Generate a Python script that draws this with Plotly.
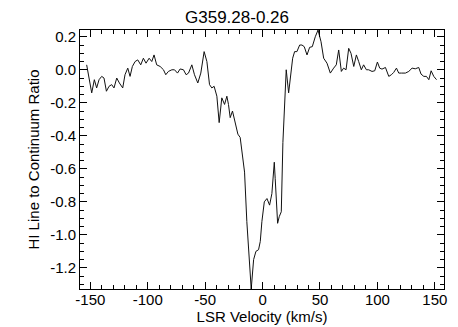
import plotly.graph_objects as go

velocity = [-153.2, -150.3, -148.8, -146.5, -144.5, -142.4, -140.1, -138.1, -136.0, -133.7,
            -131.4, -129.4, -127.0, -124.7, -121.8, -119.8, -117.4, -115.4, -113.4, -111.0,
            -108.7, -106.1, -103.8, -101.5, -98.8, -96.5, -94.5, -92.2, -89.2, -86.3,
            -84.3, -82.0, -79.0, -76.7, -74.1, -71.8, -68.9, -66.6, -64.5, -61.6,
            -59.3, -56.4, -53.8, -50.9, -48.5, -46.2, -44.2, -42.2, -39.8, -37.8,
            -35.5, -33.1, -31.1, -29.7, -28.2, -26.2, -23.8, -21.5, -19.5, -18.0,
            -15.7, -13.7, -11.6, -9.9, -7.8, -5.8, -3.5, -2.0, -0.6, 1.5,
            3.8, 6.1, 8.1, 10.2, 11.0, 13.1, 14.5, 16.3, 17.7, 19.2,
            20.6, 22.7, 24.7, 26.2, 27.9, 29.9, 32.3, 34.3, 36.3, 38.7,
            41.0, 43.3, 45.9, 48.3, 50.9, 53.2, 56.1, 59.0, 61.9, 64.2,
            66.3, 68.6, 70.6, 72.7, 75.0, 77.0, 79.4, 81.7, 83.7, 86.0,
            88.0, 90.4, 92.4, 95.3, 97.7, 100.0, 102.0, 104.0, 107.0, 109.9,
            112.2, 114.2, 116.6, 118.6, 121.0, 124.4, 127.3, 130.2, 133.0, 136.0,
            138.0, 140.4, 142.7, 144.8, 146.8, 149.1, 151.5]

ratio = [0.03, -0.08, -0.14, -0.06, -0.11, -0.06, -0.04, -0.05, -0.13, -0.10,
         -0.09, -0.11, -0.05, -0.08, -0.11, -0.03, 0.01, -0.04, 0.02, 0.05,
         0.06, 0.03, 0.07, 0.04, 0.07, 0.05, 0.09, 0.03, 0.02, 0.00,
         -0.03, -0.01, 0.00, 0.00, -0.02, 0.005, 0.00, -0.03, -0.02, 0.03,
         -0.03, -0.08, -0.02, 0.11, 0.05, -0.09, -0.11, -0.10, -0.16, -0.32,
         -0.17, -0.21, -0.16, -0.21, -0.29, -0.25, -0.32, -0.39, -0.41, -0.51,
         -0.62, -0.92, -1.17, -1.328, -1.15, -1.10, -1.09, -1.04, -0.92, -0.80,
         -0.78, -0.82, -0.75, -0.56, -0.66, -0.93, -0.89, -0.86, -0.44, -0.25,
         0.00, -0.14, 0.00, 0.07, 0.11, 0.11, 0.15, 0.15, 0.14, 0.09,
         0.136, 0.14, 0.20, 0.241, 0.17, 0.07, 0.04, -0.02, 0.01, 0.03,
         0.12, -0.01, 0.01, 0.00, 0.13, 0.10, 0.02, 0.09, 0.05, 0.00,
         0.03, 0.00, 0.00, -0.01, -0.006, 0.047, 0.01, 0.004, 0.014, -0.04,
         -0.03, -0.016, 0.01, -0.02, -0.02, -0.02, -0.01, 0.01, 0.006, 0.014,
         -0.026, -0.04, -0.04, -0.06, -0.006, -0.04, -0.06]

x_ticks = [-150, -100, -50, 0, 50, 100, 150]
x_tick_labels = ["-150", "-100", "-50", "0", "50", "100", "150"]
y_ticks = [-1.2, -1.0, -0.8, -0.6, -0.4, -0.2, 0.0, 0.2]
y_tick_labels = ["-1.2", "-1.0", "-0.8", "-0.6", "-0.4", "-0.2", "0.0", "0.2"]

font_family = "Liberation Sans, Arial, sans-serif"

fig = go.Figure()
fig.add_trace(go.Scatter(x=velocity, y=ratio, mode="lines",
                         line=dict(color="#111111", width=1), showlegend=False))

fig.update_layout(
    width=458, height=327,
    margin=dict(l=72, r=22, t=22, b=46),
    paper_bgcolor="white", plot_bgcolor="white",
    font=dict(family=font_family, size=15, color="black"),
    title=dict(text="G359.28-0.26", x=0.5, xanchor="center", y=0.99, yanchor="top",
               font=dict(size=17, color="black")),
)
fig.update_xaxes(
    range=[-159, 158], tickvals=x_ticks, ticktext=x_tick_labels, ticks="inside",
    ticklen=7, tickwidth=1,
    tickcolor="black", showline=True, linecolor="black", linewidth=1, mirror="allticks",
    showgrid=False, zeroline=False, ticklabelstandoff=-3,
    minor=dict(ticks="inside", dtick=10, ticklen=4, tickcolor="black", showgrid=False),
    title=dict(text="LSR Velocity (km/s)", standoff=0, font=dict(size=15)),
    tickfont=dict(size=15),
)
fig.update_yaxes(
    range=[-1.328, 0.241], tickvals=y_ticks, ticktext=y_tick_labels, ticks="inside",
    ticklen=7, tickwidth=1, tickcolor="black", showline=True, linecolor="black",
    linewidth=1, mirror="allticks", showgrid=False, zeroline=False,
    minor=dict(ticks="inside", dtick=0.05, ticklen=4, tickcolor="black", showgrid=False),
    title=dict(text="HI Line to Continuum Ratio", standoff=6, font=dict(size=15)),
    tickfont=dict(size=15),
)

fig.write_html("out.html")
